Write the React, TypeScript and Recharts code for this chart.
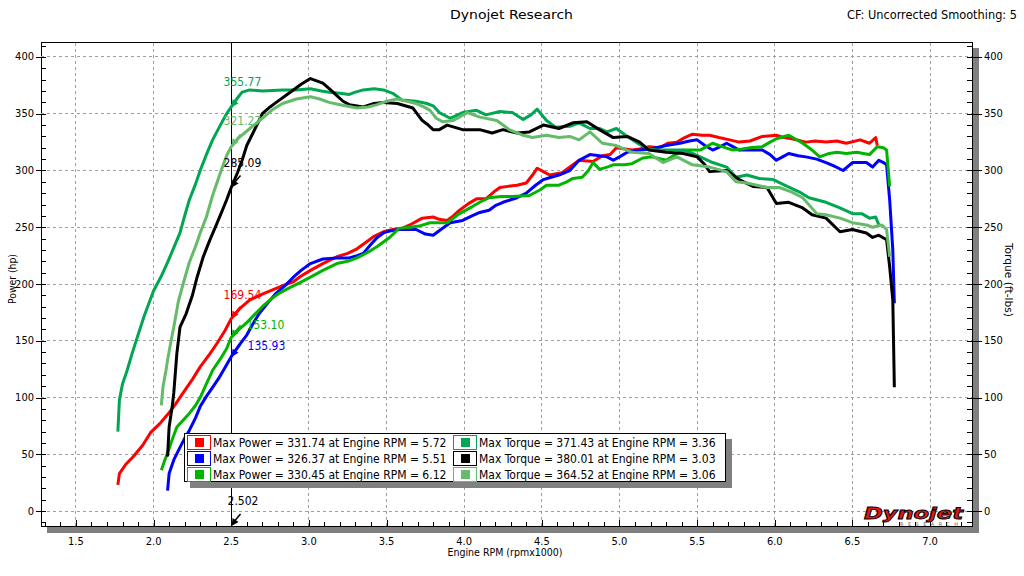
import React from 'react';
import { LineChart, Line, XAxis, YAxis, ReferenceLine, ReferenceDot } from 'recharts';

const FONT = "Tahoma, 'DejaVu Sans Condensed', 'Liberation Sans', Arial, sans-serif";

// ---------- data (rpm x1000, value) ----------
const redRpm = [1.77, 1.78, 1.82, 1.87, 1.93, 1.98, 2.04, 2.09, 2.14, 2.19, 2.25, 2.30, 2.36, 2.41, 2.46, 2.50, 2.56, 2.62, 2.70, 2.77, 2.84, 2.90, 2.95, 3.01, 3.09, 3.18, 3.25, 3.31, 3.37, 3.42, 3.48, 3.54, 3.60, 3.65, 3.73, 3.80, 3.84, 3.89, 3.93, 3.97, 4.03, 4.08, 4.14, 4.19, 4.23, 4.28, 4.34, 4.40, 4.44, 4.47, 4.51, 4.55, 4.63, 4.69, 4.74, 4.83, 4.89, 4.94, 4.98, 5.08, 5.13, 5.19, 5.26, 5.31, 5.37, 5.42, 5.47, 5.53, 5.58, 5.64, 5.71, 5.77, 5.84, 5.92, 6.01, 6.06, 6.11, 6.20, 6.26, 6.33, 6.40, 6.46, 6.55, 6.61, 6.65, 6.66];
const redHp = [23, 33, 41, 48, 58, 69, 77, 85, 94, 104, 116, 127, 138, 148, 159, 169.5, 179, 186, 191, 195, 199, 202, 207, 212, 218, 224, 227, 231, 237, 242, 246, 248, 249, 252, 258, 259, 257, 256, 260, 265, 271, 275, 275, 281, 285, 286, 287, 289, 296, 302, 299, 296, 298, 304, 309, 308, 313, 314, 320, 318, 319, 321, 320, 324, 325, 329, 332, 331, 331, 329, 327, 325, 326, 330, 331, 329, 328, 325, 326, 325, 326, 324, 327, 324, 329, 322];

const blueRpm = [2.09, 2.10, 2.13, 2.17, 2.20, 2.23, 2.27, 2.30, 2.34, 2.38, 2.42, 2.45, 2.50, 2.55, 2.60, 2.64, 2.68, 2.74, 2.79, 2.85, 2.90, 2.95, 3.01, 3.09, 3.18, 3.26, 3.31, 3.35, 3.40, 3.44, 3.48, 3.53, 3.58, 3.63, 3.69, 3.75, 3.80, 3.85, 3.91, 3.99, 4.05, 4.10, 4.16, 4.20, 4.25, 4.34, 4.40, 4.46, 4.51, 4.56, 4.61, 4.68, 4.74, 4.81, 4.87, 4.92, 4.96, 5.00, 5.05, 5.13, 5.20, 5.30, 5.39, 5.45, 5.50, 5.55, 5.60, 5.65, 5.69, 5.73, 5.77, 5.84, 5.92, 5.97, 6.01, 6.05, 6.09, 6.15, 6.20, 6.27, 6.33, 6.38, 6.44, 6.50, 6.59, 6.63, 6.67, 6.70, 6.72, 6.74, 6.76, 6.77];
const blueHp = [18, 33, 45, 56, 64, 71, 82, 92, 101, 109, 117, 124, 136, 146, 155, 165, 174, 184, 192, 199, 206, 212, 218, 222, 223, 223, 225, 227, 235, 241, 245, 247, 248, 248, 248, 244, 243, 248, 254, 256, 260, 263, 265, 269, 272, 276, 280, 287, 292, 294, 296, 300, 309, 314, 313, 312, 309, 312, 316, 318, 319, 322, 324, 326, 327, 322, 318, 321, 324, 321, 318, 318, 318, 314, 309, 312, 315, 313, 312, 310, 307, 304, 300, 307, 307, 303, 309, 307, 305, 274, 230, 183];

const greenRpm = [2.05, 2.07, 2.09, 2.12, 2.15, 2.19, 2.23, 2.27, 2.30, 2.34, 2.38, 2.43, 2.47, 2.50, 2.55, 2.60, 2.65, 2.70, 2.75, 2.81, 2.88, 2.94, 3.01, 3.09, 3.18, 3.25, 3.31, 3.38, 3.44, 3.52, 3.58, 3.65, 3.71, 3.78, 3.84, 3.89, 3.93, 3.97, 4.05, 4.10, 4.16, 4.24, 4.31, 4.42, 4.49, 4.53, 4.61, 4.66, 4.70, 4.76, 4.80, 4.83, 4.87, 4.92, 4.96, 5.03, 5.08, 5.15, 5.21, 5.30, 5.36, 5.41, 5.47, 5.52, 5.56, 5.60, 5.66, 5.73, 5.79, 5.84, 5.92, 5.97, 6.01, 6.09, 6.13, 6.18, 6.24, 6.29, 6.35, 6.40, 6.46, 6.53, 6.57, 6.61, 6.66, 6.70, 6.72, 6.74];
const greenHp = [36, 44, 51, 63, 74, 80, 86, 93, 100, 112, 124, 134, 143, 153, 160, 166, 173, 180, 186, 192, 197, 201, 206, 212, 218, 220, 223, 228, 233, 241, 249, 250, 251, 254, 254, 254, 258, 262, 268, 272, 276, 277, 277, 278, 283, 287, 287, 290, 293, 294, 300, 307, 301, 303, 305, 305, 306, 311, 312, 309, 314, 318, 318, 318, 321, 324, 321, 318, 319, 320, 321, 325, 328, 331, 328, 324, 318, 312, 315, 316, 315, 316, 315, 314, 321, 320, 318, 286];

const tealRpm = [1.77, 1.78, 1.80, 1.83, 1.86, 1.89, 1.94, 2.00, 2.05, 2.09, 2.13, 2.17, 2.20, 2.23, 2.27, 2.30, 2.34, 2.38, 2.43, 2.47, 2.50, 2.54, 2.57, 2.62, 2.70, 2.83, 2.92, 3.01, 3.08, 3.13, 3.20, 3.26, 3.30, 3.35, 3.42, 3.48, 3.54, 3.60, 3.69, 3.76, 3.80, 3.84, 3.91, 3.99, 4.08, 4.14, 4.23, 4.31, 4.38, 4.43, 4.47, 4.53, 4.59, 4.68, 4.74, 4.81, 4.87, 4.92, 4.98, 5.05, 5.13, 5.19, 5.24, 5.30, 5.41, 5.47, 5.52, 5.60, 5.69, 5.75, 5.82, 5.90, 5.99, 6.08, 6.16, 6.22, 6.33, 6.42, 6.50, 6.56, 6.61, 6.65, 6.67];
const tealTq = [70, 98, 112, 124, 138, 151, 172, 194, 207, 219, 232, 245, 260, 274, 288, 300, 314, 327, 340, 350, 356, 364, 369, 371, 370, 371, 371, 372, 370, 369, 368, 367, 369, 371, 372, 371, 368, 362, 361, 359, 357, 351, 346, 351, 353, 349, 352, 351, 345, 349, 354, 344, 338, 339, 342, 337, 337, 334, 337, 330, 323, 319, 318, 318, 318, 315, 312, 307, 303, 294, 296, 293, 292, 286, 281, 276, 272, 267, 262, 262, 258, 259, 252];

const blackRpm = [2.09, 2.10, 2.12, 2.13, 2.15, 2.17, 2.21, 2.25, 2.28, 2.32, 2.36, 2.41, 2.44, 2.47, 2.50, 2.54, 2.57, 2.60, 2.64, 2.70, 2.75, 2.79, 2.88, 2.95, 3.01, 3.05, 3.09, 3.14, 3.18, 3.22, 3.26, 3.35, 3.42, 3.48, 3.57, 3.67, 3.73, 3.76, 3.80, 3.84, 3.89, 3.99, 4.10, 4.18, 4.25, 4.34, 4.42, 4.51, 4.61, 4.70, 4.79, 4.87, 4.96, 5.05, 5.13, 5.19, 5.30, 5.41, 5.50, 5.55, 5.58, 5.69, 5.77, 5.86, 5.95, 6.01, 6.09, 6.18, 6.24, 6.33, 6.42, 6.50, 6.59, 6.63, 6.67, 6.72, 6.74, 6.76, 6.77];
const blackTq = [48, 74, 92, 104, 139, 162, 174, 190, 206, 224, 238, 254, 264, 274, 285, 298, 309, 322, 333, 350, 356, 360, 369, 376, 381, 379, 377, 371, 366, 361, 358, 356, 359, 360, 359, 355, 344, 341, 336, 336, 340, 336, 336, 333, 336, 333, 334, 340, 337, 342, 343, 336, 329, 330, 325, 318, 316, 315, 312, 305, 299, 300, 292, 286, 285, 271, 272, 267, 261, 258, 246, 248, 245, 241, 243, 239, 215, 186, 109];

const lgreenRpm = [2.05, 2.06, 2.08, 2.09, 2.11, 2.13, 2.16, 2.19, 2.23, 2.27, 2.30, 2.34, 2.38, 2.43, 2.47, 2.50, 2.55, 2.62, 2.70, 2.77, 2.83, 2.92, 3.01, 3.07, 3.13, 3.20, 3.31, 3.38, 3.44, 3.50, 3.57, 3.63, 3.69, 3.74, 3.78, 3.82, 3.86, 3.93, 4.02, 4.10, 4.21, 4.29, 4.38, 4.44, 4.53, 4.61, 4.68, 4.74, 4.81, 4.89, 4.98, 5.08, 5.19, 5.28, 5.37, 5.47, 5.58, 5.69, 5.75, 5.82, 5.95, 6.03, 6.11, 6.18, 6.27, 6.33, 6.42, 6.50, 6.59, 6.63, 6.69, 6.72, 6.74];
const lgreenTq = [93, 109, 124, 133, 148, 162, 185, 200, 219, 233, 245, 259, 278, 298, 313, 321, 329, 337, 346, 354, 359, 363, 365, 363, 360, 358, 355, 356, 358, 361, 363, 361, 359, 356, 353, 346, 343, 344, 351, 347, 344, 336, 331, 329, 331, 329, 330, 327, 334, 324, 322, 316, 315, 307, 312, 305, 303, 299, 290, 289, 285, 285, 281, 276, 262, 261, 258, 254, 252, 250, 252, 248, 224];

// cursor readout
const CURSOR_RPM = 2.502;
const CURSOR_LABEL = '2.502';
const READOUT_VALUES = [355.77, 321.27, 285.09, 169.54, 153.10, 135.93];
const READOUT_TEXT = ['355.77', '321.27', '285.09', '169.54', '153.10', '135.93'];

// legend values
const MAX_POWER = ['331.74', '326.37', '330.45'];
const MAX_POWER_RPM = ['5.72', '5.51', '6.12'];
const MAX_TORQUE = ['371.43', '380.01', '364.52'];
const MAX_TORQUE_RPM = ['3.36', '3.03', '3.06'];

// ticks
const X_TICKS = [1.3, 1.4, 1.5, 1.6, 1.7, 1.8, 1.9, 2.0, 2.1, 2.2, 2.3, 2.4, 2.5, 2.6, 2.7, 2.8, 2.9, 3.0, 3.1, 3.2, 3.3, 3.4, 3.5, 3.6, 3.7, 3.8, 3.9, 4.0, 4.1, 4.2, 4.3, 4.4, 4.5, 4.6, 4.7, 4.8, 4.9, 5.0, 5.1, 5.2, 5.3, 5.4, 5.5, 5.6, 5.7, 5.8, 5.9, 6.0, 6.1, 6.2, 6.3, 6.4, 6.5, 6.6, 6.7, 6.8, 6.9, 7.0, 7.1, 7.2];
const X_MAJOR = [1.5, 2.0, 2.5, 3.0, 3.5, 4.0, 4.5, 5.0, 5.5, 6.0, 6.5, 7.0];
const X_MAJOR_LABELS = ['1.5', '2.0', '2.5', '3.0', '3.5', '4.0', '4.5', '5.0', '5.5', '6.0', '6.5', '7.0'];
const Y_TICKS = [-10, 0, 10, 20, 30, 40, 50, 60, 70, 80, 90, 100, 110, 120, 130, 140, 150, 160, 170, 180, 190, 200, 210, 220, 230, 240, 250, 260, 270, 280, 290, 300, 310, 320, 330, 340, 350, 360, 370, 380, 390, 400, 410];
const Y_MAJOR = [0, 50, 100, 150, 200, 250, 300, 350, 400];

// ---------- styles ----------
const RED = '#ff0000';
const BLUE = '#0000ff';
const GREEN = '#00b400';
const TEAL = '#00a651';
const BLACK = '#000000';
const LGREEN = '#66bb6a';
const GRID = '#a0a0a0';

const X_DOMAIN: [number, number] = [1.275, 7.27];
const Y_DOMAIN: [number, number] = [-13.2, 413.2];
const PLOT = { left: 41, top: 42, right: 972, bottom: 526 };

const READOUT_COLORS = [TEAL, LGREEN, BLACK, RED, GREEN, BLUE];
const READOUT_OFFSETS = [[-8, -25], [-8, -25], [-8, -24], [-8, -24], [15, -12], [16, -11]];

const toData = (rpm: number[], vals: number[]) => rpm.map((r, i) => ({ rpm: r, v: vals[i] }));

const SERIES = [
  { name: 'p1', data: toData(redRpm, redHp), color: RED, axis: 0 as any },
  { name: 'p2', data: toData(blueRpm, blueHp), color: BLUE, axis: 0 as any },
  { name: 'p3', data: toData(greenRpm, greenHp), color: GREEN, axis: 0 as any },
  { name: 't1', data: toData(tealRpm, tealTq), color: TEAL, axis: 'right' },
  { name: 't2', data: toData(blackRpm, blackTq), color: BLACK, axis: 'right' },
  { name: 't3', data: toData(lgreenRpm, lgreenTq), color: LGREEN, axis: 'right' },
];

const px = (v: number) => Math.round(v) + 0.5;

const leftTickShape = (v: number) => (props: any) => {
  const { cx, cy } = props;
  if (cx == null || cy == null) return <g />;
  const major = Y_MAJOR.indexOf(v) >= 0;
  const y = px(cy);
  return (
    <g shapeRendering="crispEdges">
      <line x1={cx} x2={cx + 5} y1={y} y2={y} stroke="#000" />
      {major && <line x1={cx - 5} x2={cx} y1={y} y2={y} stroke="#000" />}
      {major && (
        <text x={cx - 7} y={cy} textAnchor="end" dominantBaseline="central" fontSize={11} fontFamily={FONT} fill="#000">
          {String(v)}
        </text>
      )}
    </g>
  );
};

const rightTickShape = (v: number) => (props: any) => {
  const { cx, cy } = props;
  if (cx == null || cy == null) return <g />;
  const major = Y_MAJOR.indexOf(v) >= 0;
  const y = px(cy);
  return (
    <g shapeRendering="crispEdges">
      <line x1={cx - 5} x2={cx} y1={y} y2={y} stroke="#000" />
      {major && <line x1={cx} x2={cx + 10} y1={y} y2={y} stroke="#000" />}
      {major && (
        <text x={cx + 12} y={cy} textAnchor="start" dominantBaseline="central" fontSize={11} fontFamily={FONT} fill="#000">
          {String(v)}
        </text>
      )}
    </g>
  );
};

const bottomTickShape = (v: number) => (props: any) => {
  const { cx, cy } = props;
  if (cx == null || cy == null) return <g />;
  const mi = X_MAJOR.findIndex((m) => Math.abs(m - v) < 1e-6);
  const major = mi >= 0;
  const x = px(cx);
  return (
    <g shapeRendering="crispEdges">
      <line x1={x} x2={x} y1={cy} y2={cy - (major ? 6 : 4)} stroke="#000" />
      {major && (
        <text x={cx} y={cy + 15} textAnchor="middle" dominantBaseline="central" fontSize={11} fontFamily={FONT} fill="#000">
          {X_MAJOR_LABELS[mi]}
        </text>
      )}
    </g>
  );
};

const arrowShape = (color: string, text: string | null, dx: number, dy: number) => (props: any) => {
  const { cx, cy } = props;
  if (cx == null || cy == null) return <g />;
  return (
    <g>
      <polygon points={`${cx},${cy} ${cx + 1},${cy - 8} ${cx + 7},${cy - 4}`} fill={color} />
      <line x1={cx + 3} y1={cy - 5} x2={cx + 9} y2={cy - 12} stroke={color} strokeWidth={1.5} />
      {text && (
        <text x={cx + dx} y={cy + dy} dominantBaseline="central" fontSize={12} fontFamily={FONT} fill={color}>
          {text}
        </text>
      )}
    </g>
  );
};

const legendRows = [0, 1, 2];
const LEFT_COLORS = [RED, BLUE, GREEN];
const RIGHT_COLORS = [TEAL, BLACK, LGREEN];

const Swatch = ({ color }: { color: string }) => (
  <div
    style={{
      width: 22,
      height: 13,
      border: `1px solid ${color}`,
      boxSizing: 'content-box',
      display: 'flex',
      alignItems: 'center',
      justifyContent: 'center',
    }}
  >
    <div style={{ width: 9, height: 9, background: color }} />
  </div>
);

export default function App() {
  return (
    <div style={{ position: 'absolute', left: 0, top: 0, width: 1024, height: 576, background: '#fff', overflow: 'hidden', fontFamily: FONT }}>
      {/* drop shadow of plot */}
      <div style={{ position: 'absolute', left: PLOT.left + 6, top: PLOT.top + 6, width: PLOT.right - PLOT.left + 1, height: PLOT.bottom - PLOT.top + 1, background: '#808080' }} />
      {/* plot background + frame */}
      <div style={{ position: 'absolute', left: PLOT.left, top: PLOT.top, width: PLOT.right - PLOT.left + 1, height: PLOT.bottom - PLOT.top + 1, background: '#fff', border: '1px solid #000', boxSizing: 'border-box' }} />

      <div style={{ position: 'absolute', left: 0, top: 0 }}>
        <LineChart
          width={1024}
          height={576}
          margin={{ top: PLOT.top, left: PLOT.left, right: 1024 - PLOT.right, bottom: 576 - PLOT.bottom }}
        >
          <XAxis
            type="number"
            dataKey="rpm"
            domain={X_DOMAIN}
            allowDataOverflow
            ticks={X_MAJOR}
            height={0}
            axisLine={false}
            tickLine={false}
            tick={false}
          />
          <YAxis
            type="number"
            domain={Y_DOMAIN}
            allowDataOverflow
            ticks={Y_MAJOR}
            width={0}
            axisLine={false}
            tickLine={false}
            tick={false}
          />
          <YAxis
            yAxisId="right"
            orientation="right"
            type="number"
            domain={Y_DOMAIN}
            allowDataOverflow
            ticks={Y_MAJOR}
            width={0}
            axisLine={false}
            tickLine={false}
            tick={false}
          />
          {/* dashed grid */}
          {Y_MAJOR.map((v) => (
            <ReferenceLine key={'gy' + v} y={v} stroke={GRID} strokeDasharray="3 3" shapeRendering="crispEdges" />
          ))}
          {X_MAJOR.map((v) => (
            <ReferenceLine key={'gx' + v} x={v} stroke={GRID} strokeDasharray="3 3" shapeRendering="crispEdges" />
          ))}
          {Y_TICKS.map((v) => (
            <ReferenceDot key={'lt' + v} x={X_DOMAIN[0]} y={v} ifOverflow="visible" shape={leftTickShape(v)} />
          ))}
          {Y_TICKS.map((v) => (
            <ReferenceDot key={'rt' + v} x={X_DOMAIN[1]} y={v} yAxisId="right" ifOverflow="visible" shape={rightTickShape(v)} />
          ))}
          {X_TICKS.map((v) => (
            <ReferenceDot key={'bt' + v} x={v} y={Y_DOMAIN[0]} ifOverflow="visible" shape={bottomTickShape(v)} />
          ))}
          <ReferenceLine x={CURSOR_RPM} stroke="#000" strokeWidth={1} shapeRendering="crispEdges" />
          {SERIES.map((s) => (
            <Line
              key={s.name}
              data={s.data}
              dataKey="v"
              yAxisId={s.axis}
              type="linear"
              stroke={s.color}
              strokeWidth={3}
              dot={false}
              activeDot={false}
              isAnimationActive={false}
              strokeLinejoin="round"
            />
          ))}
          {READOUT_VALUES.map((v, i) => (
            <ReferenceDot
              key={'r' + i}
              x={CURSOR_RPM}
              y={v}
              ifOverflow="visible"
              shape={arrowShape(READOUT_COLORS[i], READOUT_TEXT[i], READOUT_OFFSETS[i][0], READOUT_OFFSETS[i][1])}
            />
          ))}
          <ReferenceDot
            x={CURSOR_RPM}
            y={Y_DOMAIN[0]}
            ifOverflow="visible"
            shape={arrowShape('#000', CURSOR_LABEL, -4, -25)}
          />
        </LineChart>
      </div>

      {/* titles, axis titles, logo */}
      <svg width={1024} height={576} style={{ position: 'absolute', left: 0, top: 0, pointerEvents: 'none' }}>
        <text x={450} y={14} dominantBaseline="central" fontSize={13} fontFamily={FONT} fill="#000" textLength={123} lengthAdjust="spacingAndGlyphs">
          Dynojet Research
        </text>
        <text x={847} y={14} dominantBaseline="central" fontSize={13} fontFamily={FONT} fill="#000" textLength={170} lengthAdjust="spacingAndGlyphs">
          CF: Uncorrected Smoothing: 5
        </text>
        <text x={0} y={0} transform="translate(12,279) rotate(-90)" textAnchor="middle" dominantBaseline="central" fontSize={11} fontFamily={FONT} fill="#000" textLength={50} lengthAdjust="spacingAndGlyphs">
          Power (hp)
        </text>
        <text x={0} y={0} transform="translate(1008,280) rotate(90)" textAnchor="middle" dominantBaseline="central" fontSize={11} fontFamily={FONT} fill="#000" textLength={74} lengthAdjust="spacingAndGlyphs">
          Torque (ft-lbs)
        </text>
        <text x={505} y={552} textAnchor="middle" dominantBaseline="central" fontSize={11} fontFamily={FONT} fill="#000" textLength={115} lengthAdjust="spacingAndGlyphs">
          Engine RPM (rpmx1000)
        </text>
        {/* logo */}
        <text x={864} y={519} fontSize={15} fontWeight="bold" fontStyle="italic" fontFamily="'DejaVu Sans', sans-serif" fill="#e01818" stroke="#000" strokeWidth={0.8} textLength={99} lengthAdjust="spacingAndGlyphs">
          Dynojet
        </text>
        <text x={900} y={526} fontSize={5} fontFamily="'DejaVu Sans', sans-serif" fill="#606060" textLength={58} lengthAdjust="spacing">
          RESEARCH
        </text>
      </svg>

      {/* legend */}
      <div
        style={{
          position: 'absolute',
          left: 184,
          top: 433,
          width: 542,
          height: 49,
          boxSizing: 'border-box',
          background: '#fff',
          border: '1px solid #000',
          boxShadow: '6px 6px 0 #808080',
        }}
      >
        {legendRows.map((i) => (
          <React.Fragment key={i}>
            <div style={{ position: 'absolute', left: 2, top: 1 + i * 16, display: 'flex', alignItems: 'center', height: 15 }}>
              <Swatch color={LEFT_COLORS[i]} />
              <span style={{ marginLeft: 2, fontSize: 12, whiteSpace: 'nowrap', color: '#000' }}>
                {`Max Power = ${MAX_POWER[i]} at Engine RPM = ${MAX_POWER_RPM[i]}`}
              </span>
            </div>
            <div style={{ position: 'absolute', left: 268, top: 1 + i * 16, display: 'flex', alignItems: 'center', height: 15 }}>
              <Swatch color={RIGHT_COLORS[i]} />
              <span style={{ marginLeft: 2, fontSize: 12, whiteSpace: 'nowrap', color: '#000' }}>
                {`Max Torque = ${MAX_TORQUE[i]} at Engine RPM = ${MAX_TORQUE_RPM[i]}`}
              </span>
            </div>
          </React.Fragment>
        ))}
      </div>
    </div>
  );
}
